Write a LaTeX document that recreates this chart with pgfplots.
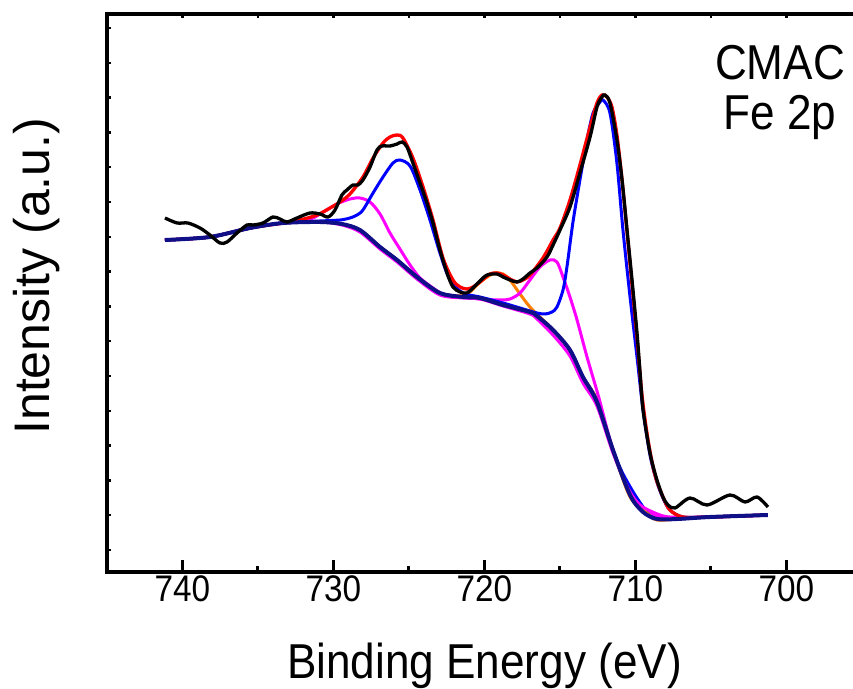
\documentclass[border=0pt]{standalone}
\usepackage{pgfplots}
\pgfplotsset{compat=1.18}
\usepackage{fontspec}
\setmainfont{Liberation Sans}[FakeStretch=0.9]
\newfontfamily\plainsans{Liberation Sans}
\definecolor{navyb}{RGB}{15,15,135}
\definecolor{orng}{RGB}{255,128,0}
\definecolor{magp}{RGB}{255,0,255}
\definecolor{blup}{RGB}{0,0,255}
\definecolor{redp}{RGB}{255,0,0}
\begin{document}
\begin{tikzpicture}
\pgfplotsset{base/.style={scale only axis, width=755pt, height=558pt, at={(0pt,0pt)}, anchor=south west,
  x dir=reverse, xmin=695, xmax=745, ymin=0, ymax=558,
  axis line style={line width=3.5pt}, tick align=inside}}
\begin{axis}[base,
  xtick={700,710,720,730,740}, minor xtick={705,715,725,735,745},
  xtick pos=lower, ytick=\empty,
  major tick length=12pt, minor tick length=6pt,
  tick style={line width=3pt, black},
  tick label style={font=\fontsize{37}{44}\selectfont},
  /pgf/number format/assume math mode=true,
  xlabel={Binding Energy (eV)},
  xlabel style={font=\fontsize{49}{58}\selectfont, at={(axis description cs:0.5,-0.19)}, anchor=base},
  ylabel={Intensity (a.u.)},
  ylabel style={font=\plainsans\fontsize{50}{58}\selectfont, at={(axis description cs:-0.0755,0.53)}, anchor=base},
]
% magenta B (near background)
\addplot[magp, line width=3pt, smooth] coordinates {
(741.16,332) (738.18,335) (735.53,344) (733.34,349) (730.89,350) (729.44,347) (728.25,340)
(726.92,323) (725.79,310) (724.47,293) (722.95,277) (721.42,274) (720.30,273) (718.77,266)
(716.99,258) (716.52,253) (715.46,237) (714.34,216) (713.48,189) (712.55,166) (711.49,119)
(710.36,79) (709.50,64) (708.58,56) (707.25,54) (705.07,55) (701.23,57)};
% blue B (near background)
\addplot[blup, line width=3pt, smooth] coordinates {
(741.16,332) (738.18,335) (735.53,344) (733.34,349) (730.89,350) (729.44,348) (728.25,342)
(726.92,325) (725.79,312) (724.47,295) (722.95,279) (721.42,275) (720.30,274) (718.77,267)
(716.99,260) (716.52,256) (715.46,242) (714.34,222) (713.48,195) (712.55,172) (711.49,122)
(710.89,100) (710.03,77) (709.04,56) (708.58,53) (707.25,53) (705.07,55) (701.23,57)};
% orange satellite
\addplot[orng, line width=3pt, smooth] coordinates {
(741.16,332) (738.18,335) (735.53,344) (733.34,349) (730.89,350) (729.44,348) (728.25,342)
(726.92,325) (725.79,312) (724.47,295) (722.95,279) (721.62,276) (720.96,280) (720.50,287)
(719.83,295) (719.30,299) (718.77,298) (718.31,292) (717.65,278) (716.99,265) (716.33,255)
(715.46,242) (714.34,222) (713.48,195) (712.55,172) (711.49,122) (710.36,75) (709.24,59)
(708.58,52) (707.25,53) (705.07,55) (701.23,57)};
% magenta satellites
\addplot[magp, line width=3pt, smooth] coordinates {
(741.16,332) (738.18,335) (735.53,344) (733.34,349) (731.56,353) (730.89,358) (729.77,368)
(728.91,373) (728.25,374) (727.58,370) (726.92,358) (726.26,339) (725.60,323) (724.93,307)
(724.27,294) (723.41,284) (722.75,278) (721.42,275) (720.30,273) (718.97,272) (718.31,273)
(717.65,279) (716.99,292) (716.33,305) (715.66,312) (715.20,310) (714.80,295) (714.34,275)
(713.87,252) (713.21,215) (712.42,174) (711.69,132) (711.03,102) (710.36,80) (709.70,67)
(708.71,59) (707.72,55) (705.07,55) (701.23,57)};
% blue main peaks
\addplot[blup, line width=3pt, smooth] coordinates {
(741.16,332) (738.18,335) (735.53,344) (733.34,349) (730.89,351) (729.57,352) (728.91,354)
(728.44,357) (728.05,362) (727.38,379) (726.72,395) (726.06,409) (725.60,412) (724.93,406)
(724.27,382) (723.61,352) (722.95,319) (722.29,292) (721.42,279) (720.30,275) (718.77,269)
(717.65,264) (716.52,259) (715.99,258) (715.53,260) (715.20,265) (714.80,282) (714.54,305)
(714.14,350) (713.68,392) (713.21,432) (712.81,459) (712.35,470) (712.15,472) (711.69,459)
(711.23,409) (710.83,342) (710.36,275) (709.90,215) (709.50,162) (709.04,117) (708.58,90)
(708.18,74) (707.72,62) (706.85,55) (705.07,55) (701.23,57)};
% envelope
\addplot[redp, line width=3.3pt, smooth] coordinates {
(741.16,332) (738.18,335) (735.53,344) (733.34,349) (732.22,352) (731.09,357) (730.23,364)
(729.57,370) (728.91,378) (728.05,395) (727.38,414) (726.72,429) (726.26,435) (725.79,437)
(725.40,434) (724.74,414) (724.07,385) (723.41,352) (722.75,314) (722.09,292) (721.62,285)
(721.16,283) (720.76,285) (720.30,290) (719.64,298) (719.17,299) (718.77,297) (718.31,293)
(717.85,290) (717.45,292) (716.99,297) (716.13,314) (715.46,332) (715.00,344) (714.34,372)
(713.68,407) (713.01,445) (712.55,469) (712.22,477) (711.89,475) (711.56,465) (711.23,437)
(710.89,392) (710.56,340) (710.23,287) (709.90,234) (709.57,177) (709.17,132) (708.71,97)
(708.18,75) (707.72,62) (706.85,55) (705.07,55) (701.23,57)};
% background
\addplot[navyb, line width=4pt, smooth] coordinates {
(741.16,332) (738.18,335) (735.53,344) (733.34,349) (730.89,350) (729.44,348) (728.25,342)
(726.92,325) (725.79,312) (724.47,295) (722.95,279) (721.42,275) (720.30,274) (718.77,267)
(716.99,260) (716.52,256) (715.46,242) (714.34,222) (713.48,195) (712.55,170) (711.49,122)
(710.36,77) (709.50,60) (708.58,53) (707.25,53) (705.07,55) (701.23,57)};
% data
\addplot[black, line width=3.3pt, smooth] coordinates {
(741.16,354) (740.36,349) (739.64,349) (738.84,344) (738.18,337) (737.52,329) (737.05,330)
(736.39,339) (735.73,347) (735.33,347) (734.67,349) (734.01,355) (733.54,353) (733.08,350)
(732.42,354) (731.56,359) (730.89,358) (730.36,355) (729.90,362) (729.44,377) (729.11,382)
(728.71,387) (728.38,387) (728.05,392) (727.58,405) (727.12,422) (726.79,426) (726.26,426)
(725.79,428) (725.46,430) (725.13,425) (724.74,409) (724.27,389) (723.81,369) (723.41,349)
(722.95,322) (722.48,299) (722.09,285) (721.62,280) (721.16,279) (720.76,284) (720.30,291)
(719.83,297) (719.17,298) (718.77,295) (718.31,292) (717.85,290) (717.45,293) (716.99,299)
(716.52,304) (715.86,315) (715.46,327) (715.00,342) (714.34,365) (713.68,399) (713.01,435)
(712.55,465) (712.22,475) (712.02,477) (711.69,469) (711.23,432) (710.89,392) (710.56,342)
(710.23,292) (709.90,239) (709.70,200) (709.50,162) (709.04,119) (708.58,92) (708.18,75)
(707.85,67) (707.38,64) (706.39,74) (705.26,67) (703.74,77) (702.75,70) (701.95,75) (701.23,65)};
\node[anchor=base, font=\fontsize{49}{58}\selectfont] at (axis cs:700.43,492) {CMAC};
\node[anchor=base, font=\fontsize{49}{58}\selectfont] at (axis cs:700.43,442) {Fe 2p};
\end{axis}
\begin{axis}[base, axis x line*=top, axis y line*=left,
  xtick={700,705,...,740}, xticklabels={},
  ytick={22,56.8,91.6,126.4,161.2,196,230.8,265.6,300.4,335.2,370,404.8,439.6,474.4,509.2,544},
  yticklabels={},
  major tick length=4pt, tick style={line width=2.5pt, black}]
\end{axis}
\pgfresetboundingbox
\path[use as bounding box] (-107pt,-116pt) rectangle (746pt,572pt);
\end{tikzpicture}
\end{document}
